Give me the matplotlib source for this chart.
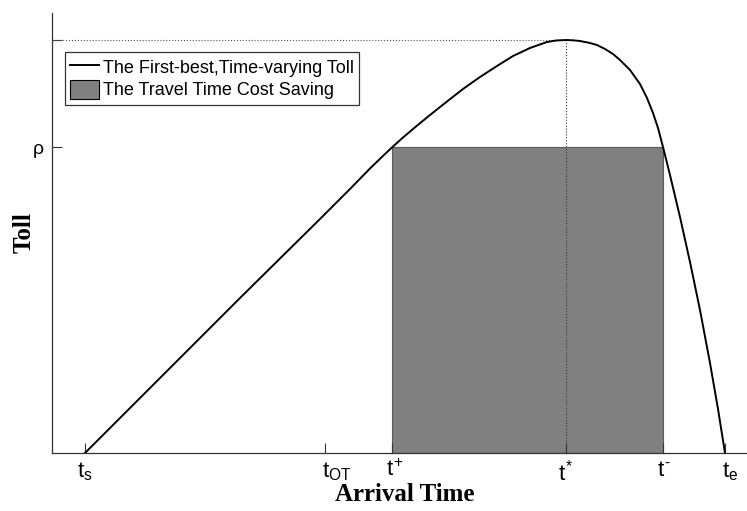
import matplotlib
matplotlib.use('Agg')
import matplotlib.pyplot as plt
from matplotlib.transforms import ScaledTranslation

# toll curve (time and toll in arbitrary units)
arrival_time = [0, 35, 75, 115, 155, 195, 235, 265, 285, 300, 307, 318, 328, 345,
                362, 378, 395, 412, 428, 445, 462, 471, 481, 488, 495, 505, 512,
                520, 528, 535, 545, 555, 562, 568, 573, 578, 585, 595, 605, 615,
                625, 633, 640]
toll = [0, 35, 75, 115, 155, 194.5, 234, 264, 284.5, 299, 305.6, 315.5, 324, 338,
        351.5, 364, 376, 387, 397, 405, 411, 412.5, 413, 412.7, 412, 410, 408,
        404, 399, 393, 383, 369, 355, 340, 325, 306, 278, 236, 191, 143,
        90, 44, 0]

# key points on the axes
x_ticks = [0, 240, 307, 481, 578, 640]
x_tick_labels = [r'$t_s$', r'$t_{OT}$', r'$t^{+}$', r'$t^{*}$', '$t^{\u2010}$', r'$t_e$']
y_ticks = [306, 413]
y_tick_labels = ['ρ', '']

t_plus, t_star, t_minus = 307, 481, 578
rho, toll_max = 306, 413

plt.rcParams['font.family'] = ['Liberation Sans', 'DejaVu Sans']
plt.rcParams['mathtext.fontset'] = 'custom'
plt.rcParams['mathtext.rm'] = 'Liberation Sans'
plt.rcParams['mathtext.it'] = 'Liberation Sans'
plt.rcParams['mathtext.bf'] = 'Liberation Sans:bold'

fig = plt.figure(figsize=(7.47, 5.11), dpi=100)
ax = fig.add_axes([52 / 747, 58 / 511, 706 / 747, 440 / 511])

# travel time cost saving rectangle
bars = ax.bar(t_plus, rho, width=t_minus - t_plus, align='edge', color='#808080',
              edgecolor='#5a5a5a', linewidth=0.8, zorder=1)

# dotted guides to the peak
ax.plot([-40, t_star], [toll_max, toll_max], ':', color='#555555', lw=0.8, zorder=2)
ax.plot([t_star, t_star], [0, toll_max], ':', color='#333333', lw=0.8, zorder=2)

line, = ax.plot(arrival_time, toll, color='black', lw=1.4, zorder=3)

ax.set_xlim(-33, 673)
ax.set_ylim(0, 440)
ax.set_xticks(x_ticks)
ax.set_xticklabels(x_tick_labels)
ax.set_yticks(y_ticks)
ax.set_yticklabels(y_tick_labels)
ax.tick_params(direction='in', length=7, width=0.8, color='#333333')
ax.tick_params(axis='x', labelsize=16, pad=5)
ax.tick_params(axis='y', labelsize=14, pad=6)

# small horizontal nudges so the labels sit like the original
nudges = [0, 12, 3, 0, 1, 5]
for lab, dx in zip(ax.get_xticklabels(), nudges):
    lab.set_transform(lab.get_transform() + ScaledTranslation(dx / 100, 0, fig.dpi_scale_trans))

for side in ['top', 'right']:
    ax.spines[side].set_visible(False)
for side in ['left', 'bottom']:
    ax.spines[side].set_color('#333333')
    ax.spines[side].set_linewidth(0.9)

ax.set_xlabel('Arrival Time', fontsize=18, fontweight='bold', family='Liberation Serif')
ax.xaxis.set_label_coords(405 / 747, 1 - 483 / 511, transform=fig.transFigure)
ax.set_ylabel('Toll', fontsize=18, fontweight='bold', family='Liberation Serif')
ax.yaxis.set_label_coords(36 / 747, 1 - 233 / 511, transform=fig.transFigure)

leg = ax.legend([line, bars.patches[0]],
                ['The First-best,Time-varying Toll', 'The Travel Time Cost Saving'],
                loc='upper left', bbox_to_anchor=(65 / 747, 1 - 52 / 511),
                bbox_transform=fig.transFigure, borderaxespad=0,
                fontsize=13, fancybox=False, framealpha=1, edgecolor='#333333',
                handlelength=1.6, handleheight=1.25, handletextpad=0.2,
                labelspacing=0.15, borderpad=0.3)
leg.get_frame().set_linewidth(0.9)
leg.legend_handles[1].set_edgecolor('black')

fig.savefig('out.png', dpi=100)
